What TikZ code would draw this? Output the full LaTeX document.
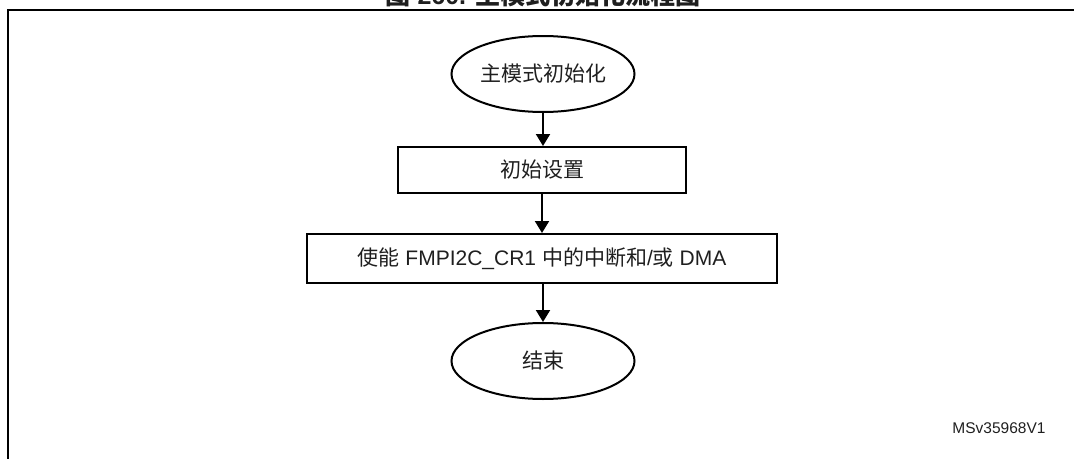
\documentclass[tikz,border=0pt]{standalone}
\usepackage{fontspec}
\setmainfont{Liberation Sans}
\newfontfamily\cjk{Noto Sans CJK SC}
\usetikzlibrary{shapes.geometric,arrows.meta}
\begin{document}
\begin{tikzpicture}[x=1pt,y=-1pt,
  every node/.style={text=black!88, inner sep=0pt},
  term/.style={ellipse, draw=black, line width=2pt, minimum width=183pt, minimum height=76pt, font=\fontsize{21}{25}\selectfont},
  proc/.style={rectangle, draw=black, line width=2pt, font=\fontsize{21}{25}\selectfont},
  flow/.style={draw=black, line width=2pt, -{Triangle[length=12pt,width=14pt]}},
  frame/.style={draw=black, line width=2pt}]
\useasboundingbox (0,0) rectangle (1074,463);
% frame (partly outside the visible area)
\coordinate (fTR) at (1090,10);
\coordinate (fTL) at (8,10);
\coordinate (fBL) at (8,459);
\draw[frame] (fTR) -- (fTL) -- (fBL);
% title (cropped at the top)
\node[anchor=base, font=\fontsize{25}{30}\selectfont\bfseries] (title) at (543,5)
  {{\cjk 图} 260. {\cjk 主模式初始化流程图}};
\node[term] (start) at (543,74) {\cjk 主模式初始化};
\node[proc, minimum width=288pt, minimum height=46pt] (init) at (542,170) {\cjk 初始设置};
\node[proc, minimum width=470pt, minimum height=49pt] (en) at (542,258.5)
  {{\cjk 使能} FMPI2C\_CR1 {\cjk 中的中断和}/{\cjk 或} DMA};
\node[term] (stop) at (543,361) {\cjk 结束};
\node[font=\fontsize{15.5}{18}\selectfont] (id) at (999,428) {MSv35968V1};
\draw[flow] (start.south) -- (start.south |- init.north);
\draw[flow] (init.south) -- (init.south |- en.north);
\draw[flow] (en.south -| stop.north) -- (stop.north);
\end{tikzpicture}
\end{document}
